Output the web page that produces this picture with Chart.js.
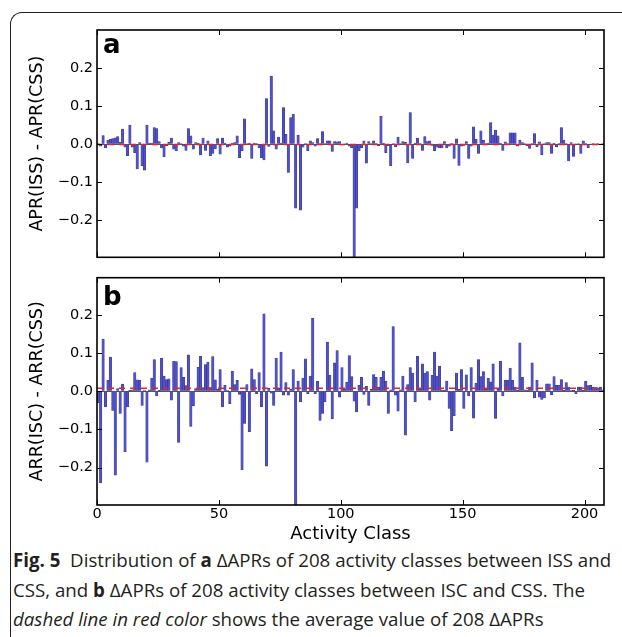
<!DOCTYPE html>
<html>
<head>
<meta charset="utf-8">
<script src="https://cdn.jsdelivr.net/npm/chart.js@4.4.1/dist/chart.umd.min.js"></script>
<style>
  body { margin: 0; background: #fff; }
  #page { position: relative; width: 622px; height: 637px; overflow: hidden; background: #fff; }
  .box { position: absolute; left: 10px; top: 12px; width: 700px; height: 700px;
         border-top: 1px solid #222; border-left: 1px solid #222; border-top-left-radius: 12px; }
  canvas { position: absolute; left: 0; }
  #caption { position: absolute; left: 13px; top: 545px; font-family: "Open Sans"; font-size: 18.7px;
             color: #231f20; line-height: 29.5px; white-space: nowrap; background: #fff; padding-right: 20px; }
</style>
</head>
<body>
<div id="page">
  <div class="box"></div>
  <canvas id="chartA" width="622" height="270" style="top:0"></canvas>
  <canvas id="chartB" width="622" height="300" style="top:265px"></canvas>
  <div id="caption">
    <div><b>Fig. 5</b>&nbsp; Distribution of <b>a</b> ΔAPRs of 208 activity classes between ISS and</div>
    <div>CSS, and <b>b</b> ΔAPRs of 208 activity classes between ISC and CSS. The</div>
    <div><i>dashed line in red color</i> shows the average value of 208 ΔAPRs</div>
  </div>
</div>
<script>
// panel a: APR(ISS) - APR(CSS), one value per activity class
const deltaA = [
  0.002, -0.005, 0.023, -0.010, 0.010, 0.013, 0.015, 0.017, 0.020, 0.005,
  0.040, -0.008, -0.030, 0.050, -0.008, -0.022, -0.065, 0.004, -0.057, -0.068,
  0.050, 0.003, 0.003, 0.044, 0.041, 0.007, -0.010, -0.033, -0.004, 0.005,
  0.016, -0.013, -0.017, 0.004, 0.002, -0.005, -0.016, 0.041, 0.022, -0.013,
  0.004, 0.003, -0.028, 0.016, -0.016, 0.009, -0.030, -0.024, -0.012, 0.015,
  -0.026, 0.016, 0.003, -0.008, -0.005, 0.003, 0.004, 0.022, -0.035, -0.017,
  0.067, 0.002, 0.003, -0.037, 0.003, 0.002, -0.010, -0.036, -0.041, 0.120,
  -0.006, 0.179, 0.035, -0.013, 0.019, 0.003, 0.096, 0.026, -0.074, 0.070,
  0.079, -0.168, 0.024, -0.173, -0.008, 0.002, -0.017, 0.009, 0.004, -0.005,
  0.015, 0.002, 0.033, 0.002, 0.009, 0.009, -0.019, 0.007, 0.006, 0.007,
  -0.002, 0.001, 0.003, -0.005, -0.009, -0.320, -0.168, -0.017, -0.009, 0.009,
  -0.050, 0.007, 0.002, 0.009, 0.002, -0.004, 0.074, 0.003, -0.022, -0.004,
  -0.057, 0.002, -0.007, 0.019, 0.002, 0.007, 0.005, -0.049, 0.083, -0.037,
  0.003, 0.016, 0.002, -0.016, 0.020, 0.007, 0.009, -0.003, -0.017, -0.008,
  -0.009, -0.010, 0.007, -0.010, -0.005, 0.002, -0.037, 0.014, -0.056, -0.005,
  -0.003, 0.007, -0.037, -0.005, 0.046, 0.013, -0.024, 0.035, 0.010, 0.002,
  0.003, 0.057, 0.024, 0.037, 0.022, 0.003, -0.016, 0.006, 0.002, 0.030,
  0.030, 0.030, -0.005, 0.011, 0.004, 0.002, -0.004, -0.011, 0.002, 0.028,
  -0.007, 0.006, -0.028, 0.002, 0.004, 0.004, -0.024, 0.003, -0.007, 0.002,
  0.044, 0.011, 0.002, -0.044, 0.004, -0.032, 0.001, 0.002, -0.024, 0.009,
  0.002, -0.009, 0.001, 0.002, 0.001, 0.002, 0.001, 0.002
];

// panel b: ARR(ISC) - ARR(CSS)
const deltaB = [
  -0.030, -0.240, 0.137, -0.041, 0.029, 0.090, -0.050, -0.220, 0.007, -0.058,
  0.019, -0.158, -0.041, 0.003, 0.004, 0.049, 0.030, 0.029, -0.037, 0.002,
  -0.186, 0.004, 0.035, 0.083, -0.012, 0.003, 0.087, 0.040, 0.031, 0.033,
  -0.023, 0.079, 0.078, -0.134, 0.062, 0.037, 0.015, 0.096, -0.092, -0.038,
  0.007, 0.063, 0.092, 0.010, 0.070, 0.077, 0.010, 0.091, 0.030, 0.005,
  0.057, -0.041, 0.016, 0.002, -0.032, 0.053, 0.018, 0.029, -0.008, -0.206,
  -0.084, 0.018, -0.106, 0.059, 0.031, -0.006, 0.049, -0.041, 0.203, -0.196,
  0.008, -0.005, -0.037, 0.087, 0.008, 0.103, -0.010, 0.023, -0.010, 0.005,
  0.057, -0.320, 0.027, -0.028, 0.035, 0.085, -0.006, 0.040, 0.192, -0.006,
  0.026, -0.076, -0.058, -0.028, 0.129, 0.042, -0.072, 0.075, 0.107, -0.015,
  0.062, 0.005, 0.024, 0.094, 0.039, -0.026, -0.054, 0.016, 0.037, -0.008,
  0.013, -0.037, 0.005, 0.044, 0.037, 0.011, 0.037, 0.053, 0.027, -0.058,
  0.004, 0.170, -0.010, -0.052, 0.004, 0.040, -0.115, 0.018, 0.062, 0.048,
  -0.028, 0.092, 0.005, 0.072, 0.048, 0.052, -0.023, 0.042, 0.103, 0.040,
  0.066, 0.004, 0.003, 0.027, -0.045, -0.103, -0.064, 0.048, 0.005, 0.057,
  -0.045, 0.043, -0.012, 0.062, -0.070, 0.022, 0.083, 0.039, 0.052, 0.005,
  0.035, 0.025, 0.072, -0.071, 0.005, 0.079, -0.012, 0.029, 0.029, 0.061,
  0.029, 0.011, 0.003, 0.127, 0.037, 0.004, 0.003, 0.011, 0.075, -0.017,
  0.029, -0.015, -0.021, -0.017, 0.020, 0.020, -0.009, 0.039, 0.016, 0.016,
  0.031, 0.003, 0.023, 0.011, 0.002, 0.003, -0.006, 0.011, 0.011, 0.003,
  0.026, 0.015, 0.016, 0.011, 0.010, 0.009, 0.011, 0.004
];

// average lines (red dashed)
const meanA = -0.001;
const meanB = 0.008;

const activityClass = deltaA.map((_, i) => i);
const xTicks = [0, 50, 100, 150, 200];
const yTicks = [-0.2, -0.1, 0.0, 0.1, 0.2];

const fmt = v => {
  if (Math.abs(v) < 1e-9) return '0.0';
  return (v < 0 ? '\u2212' : '') + Math.abs(v).toFixed(1);
};

// box, inward ticks and panel letter, drawn like the matplotlib original
const framePlugin = {
  id: 'frame',
  afterDraw(chart, args, opts) {
    const { ctx, chartArea: a, scales: { x, y } } = chart;
    ctx.save();
    ctx.strokeStyle = '#000';
    ctx.lineWidth = 1;
    ctx.beginPath();
    xTicks.forEach(v => {
      const px = Math.round(x.getPixelForValue(v)) + 0.5;
      ctx.moveTo(px, a.bottom); ctx.lineTo(px, a.bottom - 5);
      ctx.moveTo(px, a.top); ctx.lineTo(px, a.top + 5);
    });
    yTicks.forEach(v => {
      const py = Math.round(y.getPixelForValue(v)) + 0.5;
      ctx.moveTo(a.left, py); ctx.lineTo(a.left + 5, py);
      ctx.moveTo(a.right, py); ctx.lineTo(a.right - 5, py);
    });
    ctx.stroke();
    ctx.lineWidth = 1.6;
    ctx.strokeRect(a.left, a.top, a.right - a.left, a.bottom - a.top);
    ctx.fillStyle = '#000';
    ctx.font = 'bold 26px "DejaVu Sans"';
    ctx.textBaseline = 'alphabetic';
    ctx.fillText(opts.label, a.left + 6, a.top + opts.labelDy);
    ctx.restore();
  }
};

function makeChart(id, values, mean, label, labelDy, yTitle, showX, pad, xHeight, yMin, yMax) {
  return new Chart(document.getElementById(id), {
    data: {
      datasets: [
        {
          type: 'line',
          data: [{ x: 0, y: mean }, { x: 208, y: mean }],
          borderColor: '#e3262b',
          borderWidth: 1.5,
          borderDash: [6, 5],
          pointRadius: 0,
          order: 0
        },
        {
          type: 'bar',
          data: values.map((v, i) => ({ x: activityClass[i] + 0.5, y: v })),
          backgroundColor: '#4f4fd2',
          borderColor: 'rgba(40, 40, 90, 0.9)',
          borderWidth: 0.5,
          barPercentage: 1,
          categoryPercentage: 1,
          order: 1
        }
      ]
    },
    options: {
      responsive: false,
      animation: false,
      layout: { padding: pad },
      plugins: {
        legend: { display: false },
        tooltip: { enabled: false },
        frame: { label: label, labelDy: labelDy }
      },
      scales: {
        x: {
          type: 'linear',
          min: 0,
          max: 208,
          offset: false,
          afterBuildTicks: s => { s.ticks = xTicks.map(v => ({ value: v })); },
          afterFit: s => { s.height = xHeight; },
          grid: { display: false, drawTicks: false },
          border: { display: false },
          ticks: {
            display: showX,
            padding: 1,
            maxRotation: 0,
            color: '#000',
            font: { family: 'DejaVu Sans', size: 14.5 }
          },
          title: {
            display: showX,
            text: 'Activity Class',
            color: '#000',
            font: { family: 'DejaVu Sans', size: 18 },
            padding: { top: 0, bottom: 20 }
          }
        },
        y: {
          min: yMin,
          max: yMax,
          afterBuildTicks: s => { s.ticks = yTicks.map(v => ({ value: v })); },
          afterFit: s => { s.width = 97; },
          grid: {
            drawTicks: false,
            lineWidth: 1,
            color: c => (c.tick && Math.abs(c.tick.value) < 1e-9) ? '#555' : 'rgba(0,0,0,0)'
          },
          border: { display: false },
          ticks: {
            padding: 4,
            color: '#000',
            font: { family: 'DejaVu Sans', size: 14.5 },
            callback: v => fmt(v)
          },
          title: {
            display: true,
            text: yTitle,
            color: '#000',
            font: { family: 'DejaVu Sans', size: 17.5 },
            padding: { top: 27, bottom: 0 }
          }
        }
      }
    },
    plugins: [framePlugin]
  });
}

makeChart('chartA', deltaA, meanA, 'a', 23, 'APR(ISS) - APR(CSS)', false,
  { left: 0, right: 18, top: 30, bottom: 12 }, 0, -0.297, 0.300);
makeChart('chartB', deltaB, meanB, 'b', 27, 'ARR(ISC) - ARR(CSS)', true,
  { left: 0, right: 18, top: 12, bottom: 0 }, 60, -0.298, 0.298);
</script>
</body>
</html>
